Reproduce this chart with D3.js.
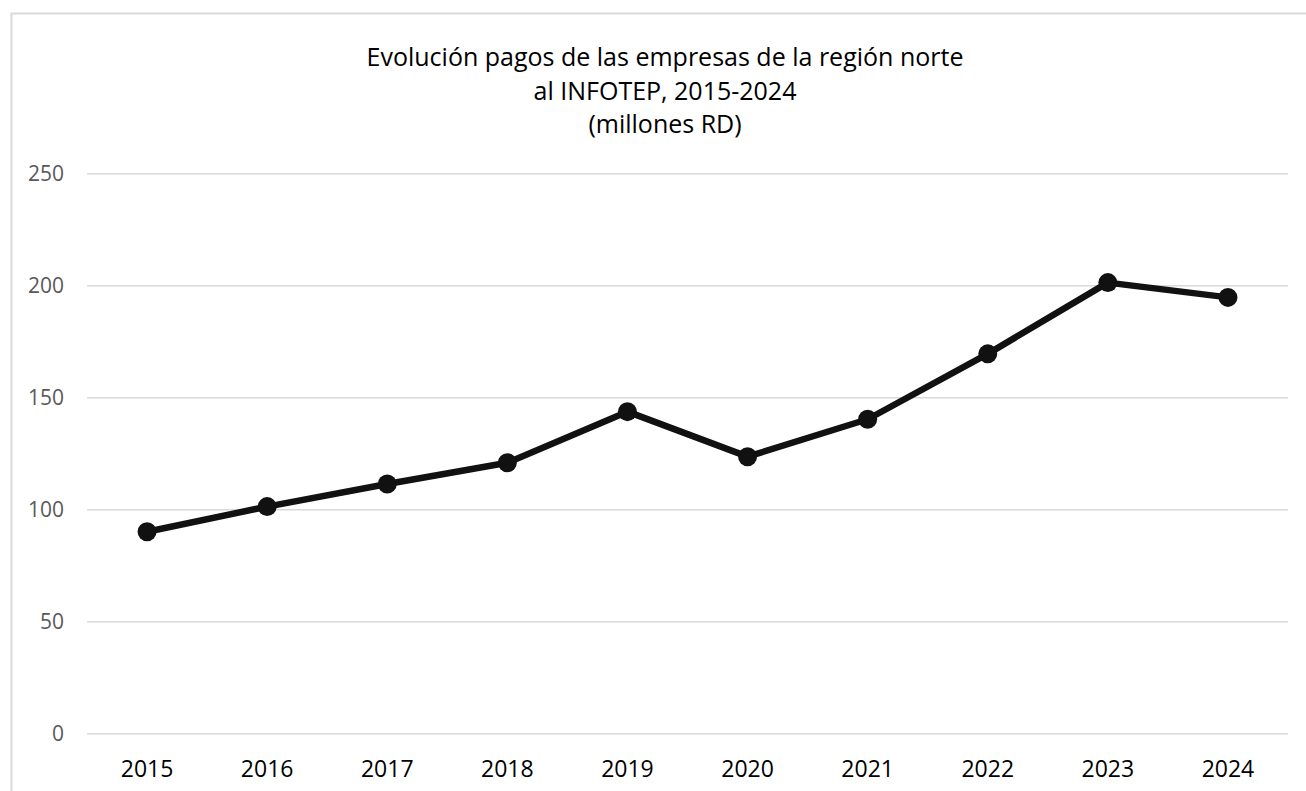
<!DOCTYPE html>
<html>
<head>
<meta charset="utf-8">
<script src="https://cdn.jsdelivr.net/npm/d3@7"></script>
<style>
  body { margin: 0; background: #fff; }
  svg { display: block; font-family: "Open Sans", sans-serif; }
</style>
</head>
<body>
<div id="chart"></div>
<script>
// data
var years = ["2015","2016","2017","2018","2019","2020","2021","2022","2023","2024"];
var pagos = [90, 101.2, 111.3, 120.8, 143.6, 123.5, 140.2, 169.4, 201.2, 194.6];
var yTicks = [0, 50, 100, 150, 200, 250];
var titleLines = ["Evolución pagos de las empresas de la región norte",
                  "al INFOTEP, 2015-2024",
                  "(millones RD)"];

var width = 1306, height = 791;
var plot = {left: 87, right: 1288, top: 173.3, bottom: 733.3};

var svg = d3.select("#chart")
  .append("svg")
    .attr("width", width)
    .attr("height", height);

// chart border (cut off at right / bottom like the reference)
svg.append("rect")
  .attr("x", 11.5).attr("y", 13.5)
  .attr("width", 1310).attr("height", 800)
  .attr("fill", "none")
  .attr("stroke", "#d9d9d9")
  .attr("stroke-width", 2);

var x = d3.scaleBand()
  .domain(years)
  .range([plot.left, plot.right]);

var y = d3.scaleLinear()
  .domain([0, 250])
  .range([plot.bottom, plot.top]);

// y axis + gridlines
var yAxis = svg.append("g")
  .attr("transform", "translate(" + plot.left + ",0)")
  .call(d3.axisLeft(y)
    .tickValues(yTicks)
    .tickSize(-(plot.right - plot.left))
    .tickPadding(23));
yAxis.select(".domain").remove();
yAxis.selectAll(".tick line")
  .attr("stroke", "#d9d9d9")
  .attr("stroke-width", 1.5);
yAxis.selectAll(".tick text")
  .attr("fill", "#595959")
  .style("font-size", "21px")
  .style("font-family", "Open Sans");

// x axis labels
var xAxis = svg.append("g")
  .attr("transform", "translate(0," + plot.bottom + ")")
  .call(d3.axisBottom(x).tickSize(0));
xAxis.select(".domain").remove();
xAxis.selectAll(".tick text")
  .attr("y", 44)
  .attr("dy", null)
  .attr("fill", "#000")
  .style("font-size", "23px")
  .style("font-family", "Open Sans");

// line
var line = d3.line()
  .x(function(d, i) { return x(years[i]) + x.bandwidth() / 2; })
  .y(function(d) { return y(d); });

svg.append("path")
  .datum(pagos)
  .attr("d", line)
  .attr("fill", "none")
  .attr("stroke", "#111")
  .attr("stroke-width", 6.5)
  .attr("stroke-linejoin", "round");

svg.append("g")
  .selectAll("circle")
  .data(pagos)
  .enter()
  .append("circle")
    .attr("cx", function(d, i) { return x(years[i]) + x.bandwidth() / 2; })
    .attr("cy", function(d) { return y(d); })
    .attr("r", 9.5)
    .attr("fill", "#111");

// title
svg.append("g")
  .selectAll("text")
  .data(titleLines)
  .enter()
  .append("text")
    .attr("x", 665)
    .attr("y", function(d, i) { return 66 + i * 33.5; })
    .attr("text-anchor", "middle")
    .attr("fill", "#000")
    .style("font-size", "25px")
    .text(function(d) { return d; });
</script>
</body>
</html>
